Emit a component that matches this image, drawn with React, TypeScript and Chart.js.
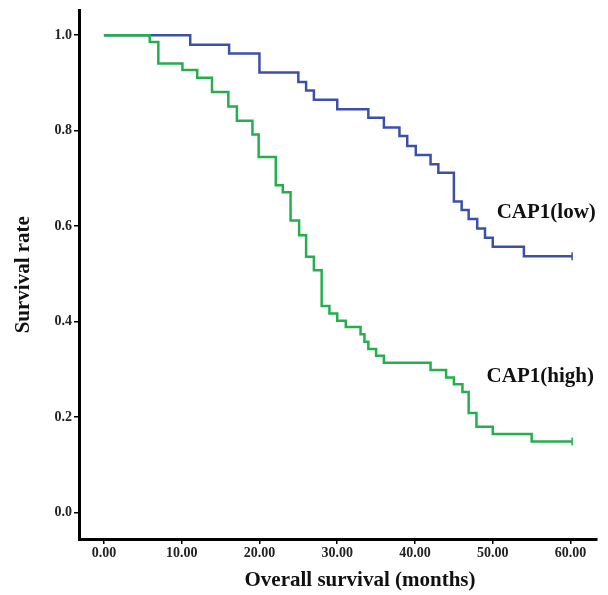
import React, { useEffect, useRef } from "react";
import { Chart, registerables } from "chart.js";

Chart.register(...registerables);

// Kaplan-Meier step data (time in months, survival proportion)
const lowTimes = [0, 11.1, 16.1, 20.0, 25.0, 26.0, 27.0, 30.0, 34.0, 36.0, 38.0, 39.0, 40.1, 42.0, 43.0, 45.0, 46.0, 46.9, 48.0, 49.0, 50.0, 54.0, 60.2];
const lowSurv = [1.0, 0.98, 0.962, 0.922, 0.902, 0.884, 0.865, 0.845, 0.827, 0.807, 0.789, 0.768, 0.749, 0.73, 0.712, 0.652, 0.634, 0.615, 0.595, 0.576, 0.557, 0.537, 0.537];

const highTimes = [0, 5.9, 7.0, 10.1, 12.0, 13.9, 16.0, 17.1, 19.1, 19.9, 22.1, 23.0, 24.0, 25.1, 26.0, 27.0, 28.0, 29.0, 30.0, 31.1, 33.0, 33.5, 34.0, 35.0, 36.0, 42.0, 44.0, 45.0, 46.1, 46.9, 47.9, 50.0, 55.0, 60.2];
const highSurv = [1.0, 0.986, 0.941, 0.927, 0.911, 0.881, 0.851, 0.821, 0.792, 0.745, 0.686, 0.671, 0.612, 0.581, 0.536, 0.508, 0.433, 0.417, 0.402, 0.389, 0.374, 0.358, 0.343, 0.329, 0.314, 0.299, 0.283, 0.269, 0.253, 0.209, 0.18, 0.165, 0.149, 0.149];

const xTicks = [0, 10, 20, 30, 40, 50, 60];
const yTicks = [0, 0.2, 0.4, 0.6, 0.8, 1.0];

const seriesNames = ["CAP1(low)", "CAP1(high)"];
const xTitle = "Overall survival (months)";
const yTitle = "Survival rate";

const BLUE = "#3B50A8";
const GREEN = "#25AE4E";
const FONT = "'Liberation Serif', 'Times New Roman', serif";

export default function App() {
  const ref = useRef<HTMLCanvasElement>(null);

  useEffect(() => {
    if (!ref.current) return;
    const toPts = (t: number[], s: number[]) => t.map((v, i) => ({ x: v, y: s[i] }));
    const lastOnly = (n: number) => (ctx: any) => (ctx.dataIndex === n - 1 ? 4 : 0);

    const textPlugin = {
      id: "textPlugin",
      afterDraw(chart: any) {
        const { ctx, scales, chartArea } = chart;
        ctx.save();
        ctx.fillStyle = "#111";
        ctx.font = `bold 21px ${FONT}`;
        // y title
        ctx.save();
        ctx.translate(24, (chartArea.top + chartArea.bottom) / 2);
        ctx.rotate(-Math.PI / 2);
        ctx.textAlign = "center";
        ctx.textBaseline = "middle";
        ctx.fillText(yTitle, 0, 0);
        ctx.restore();
        // x title
        ctx.textAlign = "center";
        ctx.textBaseline = "middle";
        ctx.fillText(xTitle, 360, 581);
        // series labels
        ctx.textAlign = "left";
        ctx.textBaseline = "alphabetic";
        ctx.fillText(seriesNames[0], scales.x.getPixelForValue(50.5), scales.y.getPixelForValue(0.617));
        ctx.fillText(seriesNames[1], scales.x.getPixelForValue(49.2), scales.y.getPixelForValue(0.274));
        ctx.restore();
      },
    };

    const chart = new Chart(ref.current, {
      type: "line",
      data: {
        datasets: [
          {
            label: seriesNames[0],
            data: toPts(lowTimes, lowSurv),
            borderColor: BLUE,
            backgroundColor: BLUE,
            borderWidth: 2.5,
            stepped: "before",
            order: 1,
            pointStyle: "line",
            rotation: 90,
            pointRadius: lastOnly(lowTimes.length),
            pointBorderWidth: 1.5,
            pointBorderColor: BLUE,
            fill: false,
          },
          {
            label: seriesNames[1],
            data: toPts(highTimes, highSurv),
            borderColor: GREEN,
            backgroundColor: GREEN,
            borderWidth: 2.5,
            stepped: "before",
            order: 0,
            pointStyle: "line",
            rotation: 90,
            pointRadius: lastOnly(highTimes.length),
            pointBorderWidth: 1.5,
            pointBorderColor: GREEN,
            fill: false,
          },
        ],
      },
      options: {
        animation: false,
        responsive: false,
        devicePixelRatio: 1,
        layout: { padding: { top: 10, right: 11, left: 0, bottom: 0 } },
        plugins: { legend: { display: false }, tooltip: { enabled: false } },
        scales: {
          x: {
            type: "linear",
            min: -3.2,
            max: 63.4,
            afterBuildTicks: (s: any) => {
              s.ticks = xTicks.map((v) => ({ value: v }));
            },
            afterFit: (s: any) => {
              s.height = 56;
            },
            ticks: {
              color: "#222",
              font: { family: FONT, size: 14, weight: "bold" },
              padding: 1,
              maxRotation: 0,
              callback: (v: any) => Number(v).toFixed(2),
            },
            grid: { drawOnChartArea: false, drawTicks: true, tickLength: 5, color: "#000", lineWidth: 1.5 },
            border: { display: true, color: "#000", width: 3 },
          },
          y: {
            type: "linear",
            min: -0.055,
            max: 1.052,
            afterBuildTicks: (s: any) => {
              s.ticks = yTicks.map((v) => ({ value: v }));
            },
            afterFit: (s: any) => {
              s.width = 79;
            },
            ticks: {
              color: "#222",
              font: { family: FONT, size: 14, weight: "bold" },
              padding: 2,
              callback: (v: any) => Number(v).toFixed(1),
            },
            grid: { drawOnChartArea: false, drawTicks: true, tickLength: 5, color: "#000", lineWidth: 1.5 },
            border: { display: true, color: "#000", width: 3 },
          },
        },
      },
      plugins: [textPlugin],
    });
    return () => chart.destroy();
  }, []);

  return (
    <div style={{ position: "fixed", left: 0, top: 0, width: 608, height: 595, background: "#fff" }}>
      <canvas ref={ref} width={608} height={595} />
    </div>
  );
}
